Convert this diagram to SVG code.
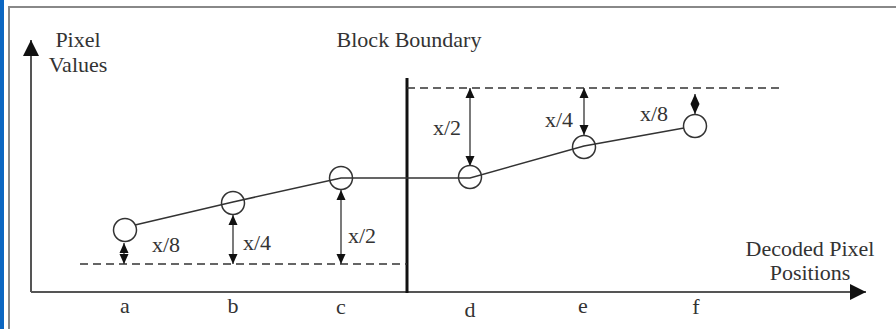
<svg xmlns="http://www.w3.org/2000/svg" width="896" height="329" viewBox="0 0 896 329">
<style>
text{font-family:"Liberation Serif","Times New Roman",serif;font-size:22px;fill:#333}
.ax{stroke:#555;stroke-width:2;fill:none}
.ln{stroke:#333;stroke-width:1.5;fill:none}
.dash{stroke:#333;stroke-width:1.5;stroke-dasharray:8 5;fill:none}
.pt{stroke:#333;stroke-width:1.5;fill:none}
.dim{stroke:#333;stroke-width:1.3;fill:none;marker-start:url(#ah);marker-end:url(#ah)}
</style>
<defs>
<marker id="ah" viewBox="0 0 10 10" refX="10" refY="5" markerWidth="10" markerHeight="10" markerUnits="userSpaceOnUse" orient="auto-start-reverse">
<path d="M0,0.5 L10,5 L0,9.5 z" fill="#111"/>
</marker>
<marker id="big" viewBox="0 0 10 10" refX="10" refY="5" markerWidth="16" markerHeight="16" markerUnits="userSpaceOnUse" orient="auto">
<path d="M0,0 L10,5 L0,10 z" fill="#111"/>
</marker>
</defs>
<rect x="0" y="0" width="896" height="329" fill="#fff"/>
<rect x="0" y="0" width="4" height="329" fill="#0b66c2"/>
<path d="M9,329 V7 H896" stroke="#888" stroke-width="2" fill="none"/>
<g id="axes">
<line class="ax" x1="31" y1="292" x2="31" y2="40" marker-end="url(#big)"/>
<line class="ax" x1="31" y1="292" x2="866" y2="292" marker-end="url(#big)"/>
<text x="78" y="47" text-anchor="middle">Pixel</text>
<text x="78" y="72" text-anchor="middle">Values</text>
<text x="810" y="256" text-anchor="middle">Decoded Pixel</text>
<text x="810" y="280" text-anchor="middle">Positions</text>
</g>
<g id="boundary">
<line x1="407" y1="78" x2="407" y2="293" stroke="#111" stroke-width="3"/>
<text x="409" y="47" text-anchor="middle">Block Boundary</text>
</g>
<g id="connectors">
<line class="dash" x1="80" y1="264" x2="407" y2="264"/>
<line class="dash" x1="407" y1="88" x2="780" y2="88"/>
<polyline class="ln" points="135,225 233,202 341,178 470,178 584,146 684,128"/>
<line class="dim" x1="124" y1="243" x2="124" y2="264"/>
<line class="dim" x1="233" y1="215" x2="233" y2="264"/>
<line class="dim" x1="341" y1="190" x2="341" y2="264"/>
<line class="dim" x1="470" y1="88" x2="470" y2="166"/>
<line class="dim" x1="584" y1="88" x2="584" y2="135"/>
<line class="dim" x1="695" y1="94" x2="695" y2="114"/>
</g>
<g id="pa"><circle class="pt" cx="125" cy="230" r="11.5"/><text x="125" y="313" text-anchor="middle">a</text><text x="152" y="252">x/8</text></g>
<g id="pb"><circle class="pt" cx="233" cy="203" r="11.5"/><text x="233" y="313" text-anchor="middle">b</text><text x="243" y="250">x/4</text></g>
<g id="pc"><circle class="pt" cx="341" cy="178" r="11.5"/><text x="341" y="314" text-anchor="middle">c</text><text x="348" y="243">x/2</text></g>
<g id="pd"><circle class="pt" cx="470" cy="177" r="11.5"/><text x="470" y="317" text-anchor="middle">d</text><text x="433" y="135">x/2</text></g>
<g id="pe"><circle class="pt" cx="584" cy="147" r="11.5"/><text x="583" y="313" text-anchor="middle">e</text><text x="545" y="127">x/4</text></g>
<g id="pf"><circle class="pt" cx="695" cy="126" r="11.5"/><text x="696" y="314" text-anchor="middle">f</text><text x="640" y="121">x/8</text></g>
</svg>
